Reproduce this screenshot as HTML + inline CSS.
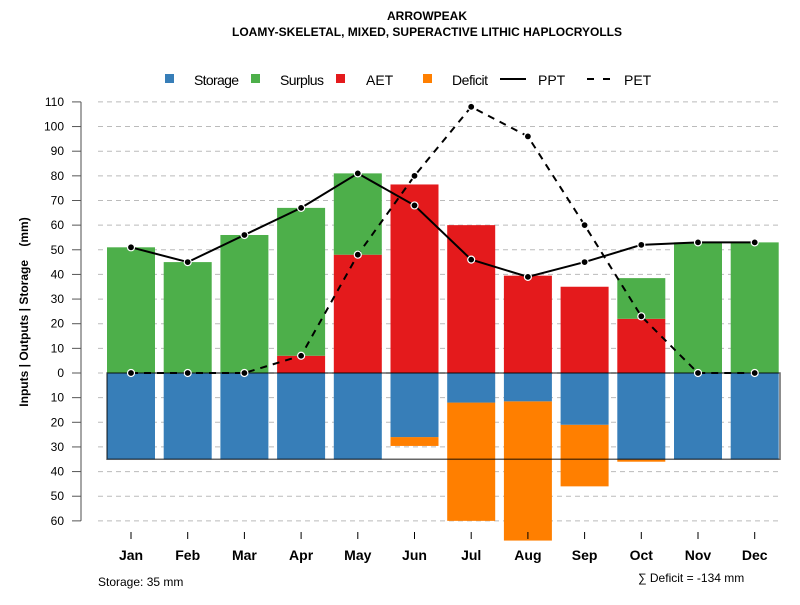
<!DOCTYPE html>
<html><head><meta charset="utf-8"><style>
body{margin:0;background:#fff}
svg text{font-family:"Liberation Sans",sans-serif}
</style></head><body>
<svg id="chart" width="800" height="600" xmlns="http://www.w3.org/2000/svg">
<text x="427" y="20" text-anchor="middle" font-size="12" font-weight="bold">ARROWPEAK</text>
<text x="427" y="36" text-anchor="middle" font-size="12" font-weight="bold">LOAMY-SKELETAL, MIXED, SUPERACTIVE LITHIC HAPLOCRYOLLS</text>
<g id="legend" font-size="14">
<rect x="165" y="74" width="9" height="9" fill="#377eb8"/>
<text x="194" y="85" textLength="45">Storage</text>
<rect x="251" y="74" width="9" height="9" fill="#4daf4a"/>
<text x="280" y="85" textLength="44">Surplus</text>
<rect x="336" y="74" width="9" height="9" fill="#e41a1c"/>
<text x="366" y="85">AET</text>
<rect x="423" y="74" width="9" height="9" fill="#ff7f00"/>
<text x="452" y="85" textLength="36">Deficit</text>
<line x1="500" y1="79" x2="526" y2="79" stroke="#000" stroke-width="2"/>
<text x="538" y="85">PPT</text>
<line x1="587" y1="79" x2="610" y2="79" stroke="#000" stroke-width="2" stroke-dasharray="7,9"/>
<text x="624" y="85">PET</text>
</g>
<g id="grid"></g><g id="bars"></g><g id="axes"></g><g id="lines"></g>
<text transform="translate(28,312) rotate(-90)" text-anchor="middle" font-size="12" font-weight="bold" xml:space="preserve">Inputs | Outputs | Storage    (mm)</text>
<text x="98" y="586" font-size="12">Storage: 35 mm</text>
<text x="638" y="582" font-size="12">∑ Deficit = -134 mm</text>
</svg>
<script>
const months=["Jan","Feb","Mar","Apr","May","Jun","Jul","Aug","Sep","Oct","Nov","Dec"];
const storage=[35,35,35,35,35,26,12,11.5,21,35,35,35];
const deficit=[0,0,0,0,0,3.6,48,56.5,25,1,0,0];
const aet=[0,0,0,7,48,76.5,60,39.5,35,22,0,0];
const surplus=[51,45,56,60,33,0,0,0,0,16.5,53,53];
const ppt=[51,45,56,67,81,68,46,39,45,52,53,53];
const pet=[0,0,0,7,48,80,108,96,60,23,0,0];
const posTicks=[0,10,20,30,40,50,60,70,80,90,100,110];
const negTicks=[10,20,30,40,50,60];
const soilStorage=35;
const NS="http://www.w3.org/2000/svg";
const y0=373,k=2.4645;
const yUp=v=>y0-v*k, yDn=v=>y0+v*k;
const xc=i=>131+i*56.7;
const bw=48;
function mk(p,t,a){const e=document.createElementNS(NS,t);for(const n in a)e.setAttribute(n,a[n]);document.getElementById(p).appendChild(e);return e;}
const ax=mk("axes","line",{x1:81,x2:81,y1:yUp(110),y2:yDn(60),stroke:"#888","stroke-width":1.5});


function tick(v,y){
 const g=mk("grid","line",{x1:98,x2:780,y1:y,y2:y,stroke:"#bbb","stroke-dasharray":"5,4"});
 
 
 const t=mk("axes","line",{x1:72,x2:81,y1:y,y2:y,stroke:"#555"});
 
 
 const l=mk("axes","text",{x:64,y:y+4,"text-anchor":"end","font-size":12});
 l.textContent=v;
 
 
}
posTicks.forEach(v=>tick(v,yUp(v)));
negTicks.forEach(v=>tick(v,yDn(v)));
months.forEach((m,i)=>{
 const x=xc(i)-bw/2;
 let r=mk("bars","rect",{x:x,y:yDn(storage[i])-0.01,width:bw,height:(deficit[i])*k,fill:"#ff7f00"});
 
 
 r=mk("bars","rect",{x:x,y:y0,width:bw,height:storage[i]*k,fill:"#377eb8"});
 
 
 r=mk("bars","rect",{x:x,y:yUp(aet[i]),width:bw,height:aet[i]*k,fill:"#e41a1c"});
 
 
 r=mk("bars","rect",{x:x,y:yUp(aet[i]+surplus[i]),width:bw,height:surplus[i]*k,fill:"#4daf4a"});
 
 
 const t=mk("axes","line",{x1:xc(i),x2:xc(i),y1:532,y2:539,stroke:"#000"});
 
 
 const l=mk("axes","text",{x:xc(i),y:560,"text-anchor":"middle","font-size":14,"font-weight":"bold"});
 l.textContent=m;
 
 
});
const box=mk("bars","rect",{x:xc(0)-bw/2,y:y0,width:780-(xc(0)-bw/2),height:soilStorage*k,fill:"none",stroke:"rgba(0,0,0,0.6)","stroke-width":1.5});


function series(vals,dash,name){
 const p=mk("lines","polyline",{points:vals.map((v,i)=>xc(i)+","+yUp(v)).join(" "),fill:"none",stroke:"#000","stroke-width":2,"stroke-dasharray":dash});
 
 
 vals.forEach((v,i)=>{
  const c=mk("lines","circle",{cx:xc(i),cy:yUp(v),r:3.5,fill:"#000",stroke:"#fff","stroke-width":1.2});
  
  
 });
}
series(pet,"7,6","pet");
series(ppt,"none","ppt");
</script>
</body></html>
